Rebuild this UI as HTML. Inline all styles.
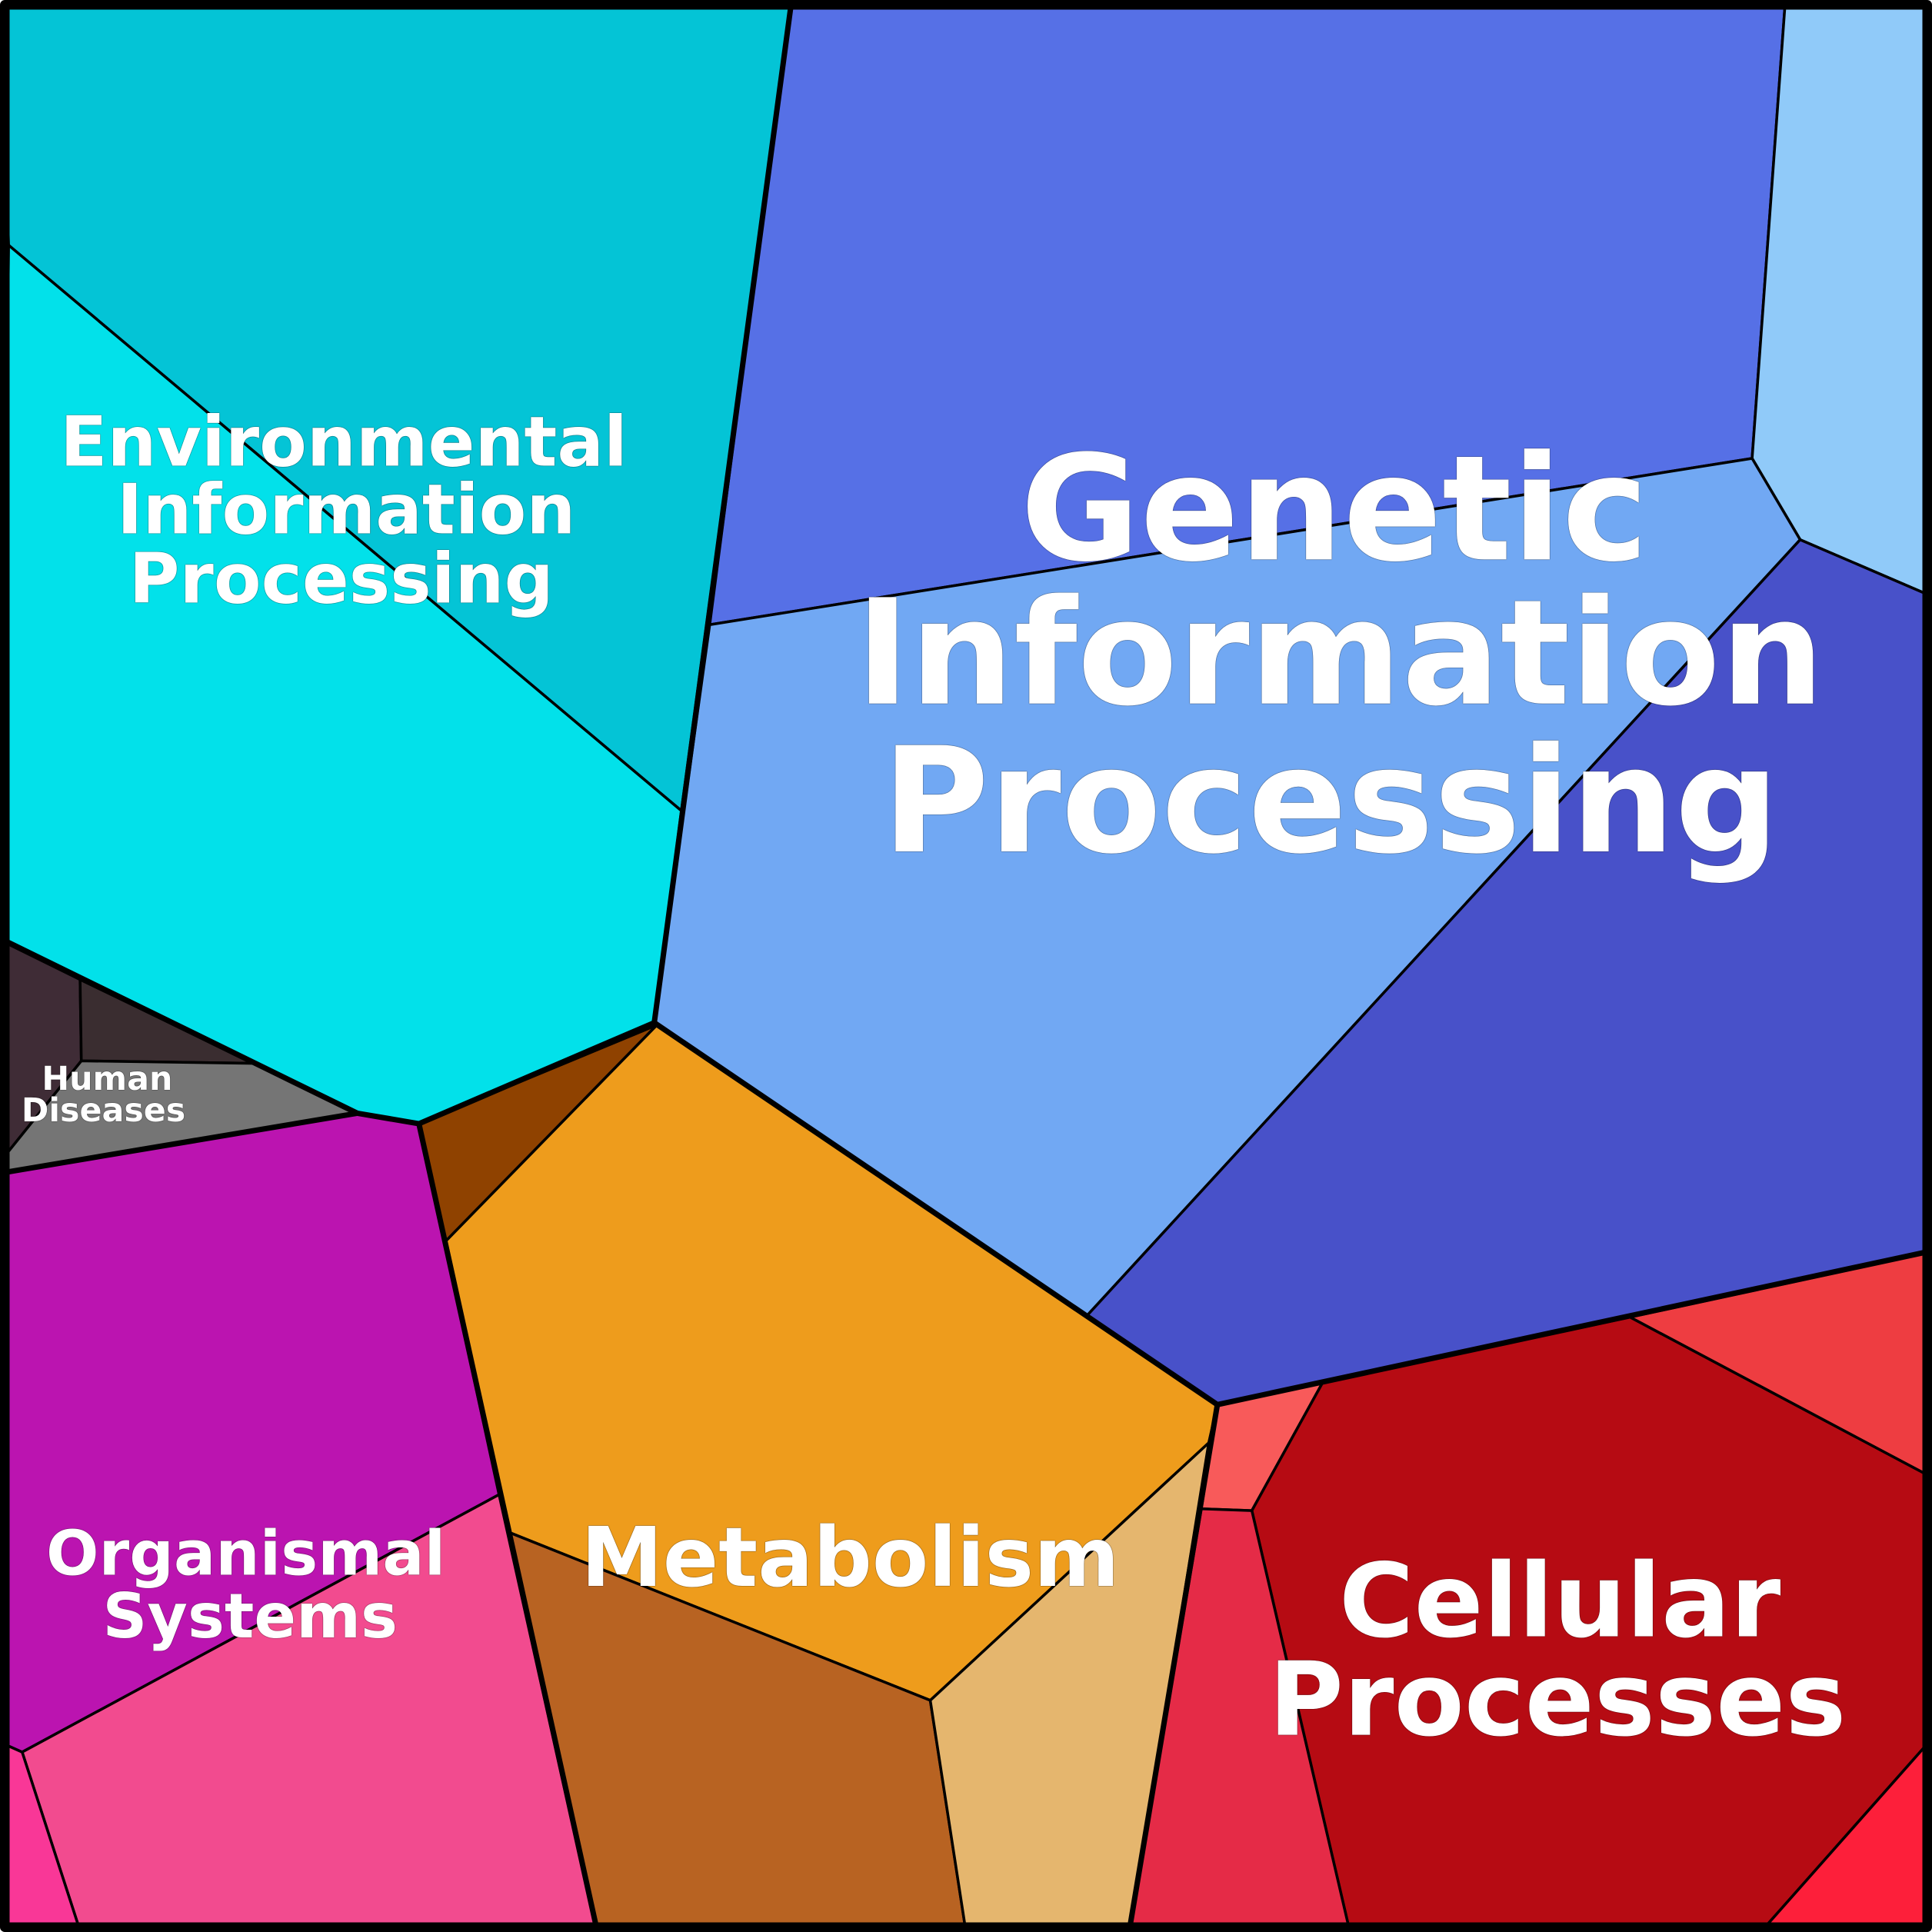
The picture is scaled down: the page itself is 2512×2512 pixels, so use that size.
<!DOCTYPE html>
<html><head><meta charset="utf-8"><style>
html,body{margin:0;padding:0;background:#fff}
svg{display:block}
text{font-family:"DejaVu Sans",sans-serif;font-weight:700;fill:#fff;text-anchor:middle}
</style></head><body>
<svg xmlns="http://www.w3.org/2000/svg" width="2512" height="2512" viewBox="0 0 1568 1568">
<defs><clipPath id="c"><rect x="4" y="4" width="1560" height="1560"/></clipPath></defs>
<g clip-path="url(#c)">
<g stroke="#000" stroke-width="2.2" stroke-linejoin="round">
<polygon fill="#04c4d6" points="0,0 642,0 553,658 7,199"/>
<polygon fill="#02e1ea" points="7,199 553,658 531,830 340,912 290,903 0,763"/>
<polygon fill="#5670e6" points="642,0 1449,0 1422,372 576,507"/>
<polygon fill="#90caf9" points="1449,0 1568,0 1568,484 1461,438 1422,372"/>
<polygon fill="#71a8f3" points="576,507 1422,372 1461,438 882,1068 531,830"/>
<polygon fill="#4851c9" points="1461,438 1568,484 1568,1016 988,1140 882,1068"/>
<polygon fill="#ee9c1c" points="533,832 988,1140 981,1171 755,1380 414,1244 362,1007"/>
<polygon fill="#8f4200" points="340,912 533,832 362,1007"/>
<polygon fill="#b86322" points="414,1244 755,1380 784,1568 484,1568"/>
<polygon fill="#e5b66e" points="981,1171 755,1380 784,1568 917,1568"/>
<polygon fill="#f85a5a" points="988,1140 1073.5,1122 1016,1226 975,1224.5"/>
<polygon fill="#b60b13" points="1073.5,1122 1323,1069 1568,1199 1568,1411 1429,1568 1095.6,1568 1016,1226"/>
<polygon fill="#ee3d41" points="1323,1069 1568,1016 1568,1199"/>
<polygon fill="#e52b47" points="975,1224.5 1016,1226 1095.6,1568 917,1568"/>
<polygon fill="#fd1f3a" points="1568,1411 1568,1568 1429,1568"/>
<polygon fill="#bb14b0" points="0,952 290,904 340,912 405,1213 18,1422 0,1414"/>
<polygon fill="#f24b8f" points="18,1422 405,1213 484,1568 65.3,1568"/>
<polygon fill="#f93797" points="0,1414 18,1422 65.3,1568 0,1568"/>
<polygon fill="#3f2c36" points="0,763 65,795 66,861 0,943"/>
<polygon fill="#3a2d30" points="65,795 206,863 66,861"/>
<polygon fill="#757575" points="66,861 206,863 290,903 0,952 0,943"/>
</g>
<g fill="none" stroke="#000" stroke-width="4.4" stroke-linejoin="round" stroke-linecap="round">
<path d="M642,4 L531,830"/>
<path d="M4,763.5 L290,903.5 L340,912 L531,830"/>
<path d="M4,951.5 L290,903.5"/>
<path d="M531,830 L988,1140 L1564,1016"/>
<path d="M340,912 L484,1564"/>
<path d="M988,1140 L917,1564"/>
</g>
</g>
<rect x="3.9" y="3.9" width="1560.2" height="1560.2" fill="none" stroke="#000" stroke-width="7.8" stroke-linejoin="round"/>
<g style="filter:drop-shadow(0.85px 0.85px 0.35px #000)">
<text x="1083" y="454" font-size="118.5">Genetic</text>
<text x="1087.5" y="571" font-size="118.5">Information</text>
<text x="1080" y="691" font-size="118.5">Processing</text>
<text x="279" y="378" font-size="56.1">Environmental</text>
<text x="281" y="433" font-size="56.1">Information</text>
<text x="277" y="489" font-size="56.1">Processing</text>
<text x="199.5" y="1278" font-size="50.3">Organismal</text>
<text x="203" y="1329" font-size="50.3">Systems</text>
<text x="690" y="1287" font-size="66.7">Metabolism</text>
<text x="1266" y="1328" font-size="83">Cellular</text>
<text x="1264" y="1408" font-size="83">Processes</text>
<text x="87" y="884.5" font-size="26.7">Human</text>
<text x="84" y="910" font-size="26.7">Diseases</text>
</g>
</svg>
</body></html>
